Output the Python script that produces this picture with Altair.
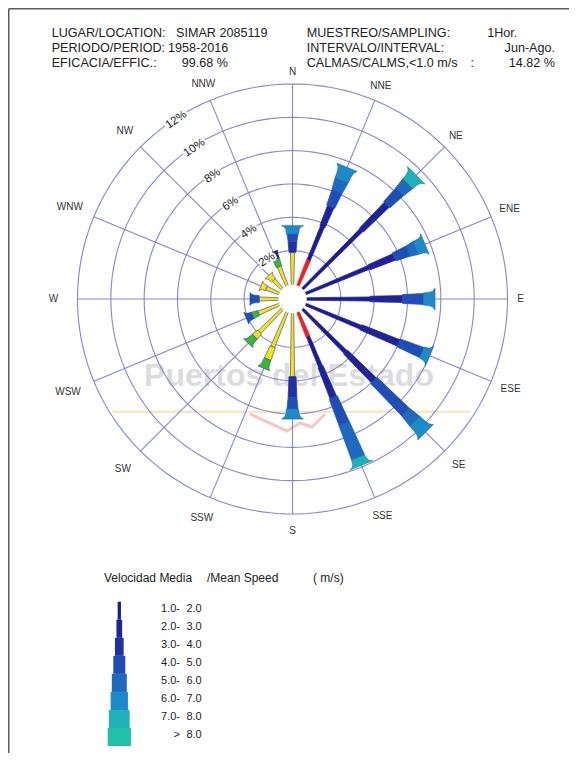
import altair as alt
import numpy as np
import pandas as pd

# ------------------------------------------------------------------ data
directions = ["N", "NNE", "NE", "ENE", "E", "ESE", "SE", "SSE",
              "S", "SSW", "SW", "WSW", "W", "WNW", "NW", "NNW"]
bearings = [0.0, 22.5, 45.0, 67.5, 90.0, 112.5, 135.0, 157.5,
            180.0, 202.5, 225.0, 247.5, 270.0, 292.5, 315.0, 337.5]

# cumulative frequency (%) reached at the end of each band of a spoke
spoke_end = [
    [1.9, 2.55, 3.0, 3.5],              # N
    [1.65, 3.8, 5.1, 6.1, 6.8, 7.65],   # NNE
    [4.95, 7.1, 8.2, 8.9, 9.6],         # NE
    [4.1, 5.7, 6.6, 7.1, 7.7],          # ENE
    [3.76, 5.7, 6.95, 7.65],            # E
    [3.55, 6.0, 7.5, 8.0],              # ESE
    [3.6, 6.0, 8.7, 9.5, 10.4],         # SE
    [1.55, 3.5, 5.5, 7.2, 9.4, 9.9],    # SSE
    [3.76, 5.0, 5.7, 6.3],              # S
    [2.2, 3.0, 3.6],                    # SSW
    [1.9, 2.3, 2.85],                   # SW
    [1.3, 1.7, 2.1],                    # WSW
    [1.1, 1.65],                        # W
    [0.8, 1.15],                        # WNW
    [0.7, 1.1],                         # NW
    [1.2, 1.7, 2.15],                   # NNW
]
# speed class (1..8) of each band
spoke_class = [
    [1, 3, 4, 6],
    [1, 1, 2, 4, 5, 6],
    [1, 2, 4, 5, 7],
    [1, 2, 4, 5, 6],
    [1, 2, 4, 6],
    [1, 2, 4, 6],
    [1, 2, 4, 5, 6],
    [1, 1, 2, 4, 5, 7],
    [1, 3, 4, 6],
    [1, 2, 3],
    [1, 2, 3],
    [1, 2, 3],
    [1, 3],
    [1, 2],
    [1, 2],
    [1, 2, 2],
]
# colour key of each band
spoke_color = [
    ["Y", "c3", "c4", "c6"],
    ["R", "c1", "c2", "c4", "c5", "c6"],
    ["c1", "c2", "c4", "c5", "c7"],
    ["c1", "c2", "c4", "c5", "c6"],
    ["c1", "c2", "c4", "c6"],
    ["c1", "c2", "c4", "c6"],
    ["c1", "c2", "c4", "c5", "c6"],
    ["R", "c1", "c2", "c4", "c5", "c7"],
    ["Y", "c3", "c4", "c6"],
    ["Y", "Y", "G"],
    ["Y", "Y", "G"],
    ["Y", "G", "c4"],
    ["Y", "c4"],
    ["Y", "Y"],
    ["Y", "Y"],
    ["Y", "G", "c1"],
]

ring_values = [2, 4, 6, 8, 10, 12]
ring_labels = ["2%", "4%", "6%", "8%", "10%", "12%"]

speed_lo = ["1.0-", "2.0-", "3.0-", "4.0-", "5.0-", "6.0-", "7.0-", ">"]
speed_hi = ["2.0", "3.0", "4.0", "5.0", "6.0", "7.0", "8.0", "8.0"]
speed_keys = ["c1", "c2", "c3", "c4", "c5", "c6", "c7", "c8"]

header_left = ["LUGAR/LOCATION:", "PERIODO/PERIOD:", "EFICACIA/EFFIC.:"]
header_left_val = ["SIMAR 2085119", "1958-2016", "99.68 %"]
header_right = ["MUESTREO/SAMPLING:", "INTERVALO/INTERVAL:", "CALMAS/CALMS,<1.0 m/s"]
header_right_val = ["1Hor.", "Jun-Ago.", "14.82 %"]

# ------------------------------------------------------------------ styles / layout
FONT = "Liberation Sans, Arial, Helvetica, sans-serif"
W, H = 561, 745
OX, OY = 8.0, 8.0            # page margin
CXP, CYP = 292.5, 299.0      # rose centre (page px)
U = 50.0 / 3.0               # px per 1 %
R0 = 0.9                     # radial offset of 0 % (units of %)
GRID = "#7f7fcc"

PAL = {"c1": "#1c1c94", "c2": "#1e2399", "c3": "#2131a3", "c4": "#1f4eb4",
       "c5": "#1d6abf", "c6": "#1d8bca", "c7": "#1fb0b8", "c8": "#22c1a6",
       "Y": "#f2e415", "G": "#3db43a", "R": "#e3242a"}
EDGE = {"c1": "#1c1c94", "c2": "#1e2399", "c3": "#2131a3", "c4": "#1f4eb4",
        "c5": "#1a5fb0", "c6": "#1b6fb5", "c7": "#1a8fa5", "c8": "#1a9f90",
        "Y": "#50509a", "G": "#2a6a6a", "R": "#e3242a"}
CLASS_W = {1: 4.2, 2: 7.0, 3: 8.8, 4: 11.0, 5: 14.0, 6: 15.0, 7: 17.0, 8: 19.0}
LEG_W = [3.3, 5.7, 8.7, 12.0, 15.0, 17.3, 20.7, 23.3]
LABEL_R = [227, 231, 231, 235, 228, 236, 235, 235, 232, 237, 240, 243, 239, 241, 237, 233]


def u(px, py):
    """page pixel -> rose units"""
    return (px - CXP) / U, (CYP - py) / U


def polar(b, R, s=0.0):
    t = np.radians(b)
    return R * np.sin(t) + s * np.cos(t), R * np.cos(t) - s * np.sin(t)


xs = alt.Scale(domain=[(OX - CXP) / U, (OX + W - CXP) / U], nice=False, zero=False)
ys = alt.Scale(domain=[(CYP - OY - H) / U, (CYP - OY) / U], nice=False, zero=False)
X = alt.X("x:Q", scale=xs, axis=None)
Y = alt.Y("y:Q", scale=ys, axis=None)

# ------------------------------------------------------------------ grid
ring_rows = []
for p in ring_values:
    for k, a in enumerate(np.arange(0, 361, 2.0)):
        x, y = polar(a, R0 + p)
        ring_rows.append({"ring": p, "k": k, "x": x, "y": y})
rings = alt.Chart(pd.DataFrame(ring_rows)).mark_line(
    stroke=GRID, strokeWidth=1.1, opacity=0.95
).encode(x=X, y=Y, detail="ring:N", order="k:Q")

rad_rows = []
for b in bearings:
    x2, y2 = polar(b, R0 + ring_values[-1])
    rad_rows.append({"x": 0.0, "y": 0.0, "x2": x2, "y2": y2})
radials = alt.Chart(pd.DataFrame(rad_rows)).mark_rule(
    stroke=GRID, strokeWidth=1.1, opacity=0.95
).encode(x=X, y=Y, x2="x2:Q", y2="y2:Q")

# ------------------------------------------------------------------ watermark
wx, wy = u(289, 376)
watermark = alt.Chart(pd.DataFrame([{"x": wx, "y": wy, "t": "Puertos del Estado"}])).mark_text(
    font=FONT, fontSize=32, fontWeight="bold", color="#d7d7d7", opacity=0.85,
    align="center", baseline="middle"
).encode(x=X, y=Y, text="t:N")
ox1, oy1 = u(112, 411.7)
ox2, oy2 = u(470, 411.7)
orange = alt.Chart(pd.DataFrame([{"x": ox1, "y": oy1, "x2": ox2, "y2": oy2}])).mark_rule(
    stroke="#fbe2b8", strokeWidth=2
).encode(x=X, y=Y, x2="x2:Q", y2="y2:Q")
chev_pts = [(250, 414), (287, 431), (300, 423), (312, 427), (325, 414)]
chev = alt.Chart(pd.DataFrame([{"k": i, "x": u(*p)[0], "y": u(*p)[1]} for i, p in enumerate(chev_pts)])).mark_line(
    stroke="#f6c6c4", strokeWidth=3
).encode(x=X, y=Y, order="k:Q")

# ------------------------------------------------------------------ spokes
poly_rows = []
for i, b in enumerate(bearings):
    ends, cls, cols = spoke_end[i], spoke_class[i], spoke_color[i]
    start = -0.1
    prev_w = None
    n = len(ends)
    for j in range(n):
        w = CLASS_W[cls[j]]
        if j == n - 1:
            w1 = max(prev_w or 0.6 * w, 0.8 * w)
            w2 = 1.45 * w
            d = w2 - w1
            prof = [(0.0, w1), (0.5, w1 + 0.12 * d), (0.8, w1 + 0.38 * d), (1.0, w2)]
        else:
            w1 = 0.6 * w if j == 0 else 0.8 * w
            prof = [(0.0, w1), (1.0, w)]
        R1, R2 = R0 + start, R0 + ends[j]
        verts = [(R1 + t * (R2 - R1), -ww / 2 / U) for t, ww in prof]
        verts += [(R1 + t * (R2 - R1), ww / 2 / U) for t, ww in reversed(prof)]
        for k, (R, s) in enumerate(verts):
            x, y = polar(b, R, s)
            poly_rows.append({"poly": f"{i:02d}-{j}", "k": k, "x": x, "y": y,
                              "fill": PAL[cols[j]], "edge": EDGE[cols[j]]})
        prev_w = w
        start = ends[j]
spokes = alt.Chart(pd.DataFrame(poly_rows)).mark_line(
    interpolate="linear-closed", strokeWidth=0.7
).encode(
    x=X, y=Y, detail="poly:N", order="k:Q",
    fill=alt.Fill("fill:N", scale=None), stroke=alt.Stroke("edge:N", scale=None)
)

calm_rows = []
for k, a in enumerate(np.arange(0, 360, 5.0)):
    x, y = polar(a, 0.84)
    calm_rows.append({"k": k, "x": x, "y": y})
calm = alt.Chart(pd.DataFrame(calm_rows)).mark_line(
    interpolate="linear-closed", fill="white", stroke="white", strokeWidth=0.5
).encode(x=X, y=Y, order="k:Q")

# ------------------------------------------------------------------ ring labels
rl_rows = []
for p, t in zip(ring_values, ring_labels):
    x, y = polar(327.0, R0 + p - 0.1)
    rl_rows.append({"x": x, "y": y, "t": t})
rl_df = pd.DataFrame(rl_rows)
ring_halo = alt.Chart(rl_df).mark_text(
    font=FONT, fontSize=11.5, angle=326, align="center", baseline="middle",
    color="white", stroke="white", strokeWidth=4
).encode(x=X, y=Y, text="t:N")
ring_txt = alt.Chart(rl_df).mark_text(
    font=FONT, fontSize=11.5, angle=326, align="center", baseline="middle", color="#222222"
).encode(x=X, y=Y, text="t:N")

# ------------------------------------------------------------------ direction labels
dl_rows = []
for d, b, r in zip(directions, bearings, LABEL_R):
    x, y = polar(b, r / U)
    dl_rows.append({"x": x, "y": y, "t": d})
dir_txt = alt.Chart(pd.DataFrame(dl_rows)).mark_text(
    font=FONT, fontSize=10, align="center", baseline="middle", color="#333333"
).encode(x=X, y=Y, text="t:N")


# ------------------------------------------------------------------ header
def text_layer(items, align, size, color="#222222", baseline="alphabetic"):
    rows = [{"x": u(px, py)[0], "y": u(px, py)[1], "t": t} for px, py, t in items]
    return alt.Chart(pd.DataFrame(rows)).mark_text(
        font=FONT, fontSize=size, align=align, baseline=baseline, color=color
    ).encode(x=X, y=Y, text="t:N")


HDR_Y = [36.7, 52.0, 67.3]
hdr_lv_x = [176.0, 168.0, 181.7]
hdr_rv_x = [517.3, 555.0, 555.0]
hdr_left = text_layer(
    [(51.7, yy, t) for yy, t in zip(HDR_Y, header_left)]
    + [(xx, yy, t) for xx, yy, t in zip(hdr_lv_x, HDR_Y, header_left_val)]
    + [(306.7, yy, t) for yy, t in zip(HDR_Y, header_right)]
    + [(470.5, HDR_Y[2], ":")],
    "left", 12.6)
hdr_right = text_layer([(xx, yy, t) for xx, yy, t in zip(hdr_rv_x, HDR_Y, header_right_val)],
                       "right", 12.6)

# ------------------------------------------------------------------ legend
leg_title = text_layer([(104.0, 581.5, "Velocidad Media"), (207.0, 581.5, "/Mean Speed"),
                        (313.0, 581.5, "( m/s)")], "left", 12)
LEG_CX, LEG_TOP, LEG_STEP = 119.3, 601.7, 18.05
leg_rows = []
for k, (key, w) in enumerate(zip(speed_keys, LEG_W)):
    x1, y1 = u(LEG_CX - w / 2, LEG_TOP + k * LEG_STEP)
    x2, y2 = u(LEG_CX + w / 2, LEG_TOP + (k + 1) * LEG_STEP)
    leg_rows.append({"x": x1, "y": y1, "x2": x2, "y2": y2, "fill": PAL[key]})
leg_rects = alt.Chart(pd.DataFrame(leg_rows)).mark_rect(strokeWidth=0).encode(
    x=X, y=Y, x2="x2:Q", y2="y2:Q", fill=alt.Fill("fill:N", scale=None)
)
leg_lo = text_layer([(180.0, 611.8 + k * LEG_STEP, t) for k, t in enumerate(speed_lo)], "right", 11)
leg_hi = text_layer([(201.7, 611.8 + k * LEG_STEP, t) for k, t in enumerate(speed_hi)], "right", 11)

# ------------------------------------------------------------------ frame
fx0, fy0 = u(OX + 0.75, OY + 0.75)
fx1, fy1 = u(OX + W, OY + H)
frame = alt.Chart(pd.DataFrame([
    {"x": fx0, "y": fy0, "x2": fx0, "y2": fy1},
    {"x": fx0, "y": fy0, "x2": fx1, "y2": fy0},
])).mark_rule(stroke="#5a5a5a", strokeWidth=1.5).encode(x=X, y=Y, x2="x2:Q", y2="y2:Q")

chart = alt.layer(
    watermark, orange, chev, rings, radials, spokes, calm,
    ring_halo, ring_txt, dir_txt, hdr_left, hdr_right,
    leg_title, leg_rects, leg_lo, leg_hi, frame
).properties(
    width=W, height=H, padding=0, autosize=alt.AutoSizeParams(type="none")
).configure_view(strokeWidth=0)

chart.save("out.html", embed_options={"renderer": "svg", "actions": False})
